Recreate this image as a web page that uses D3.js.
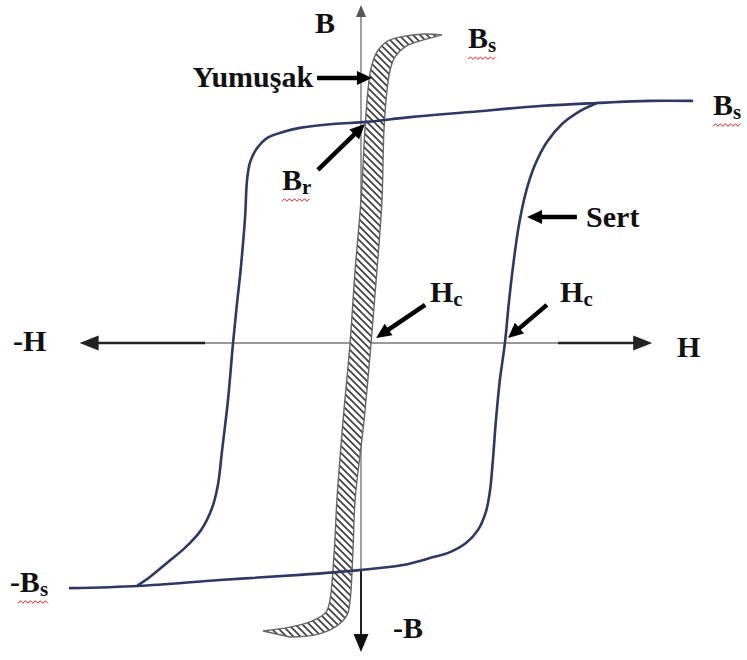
<!DOCTYPE html>
<html>
<head>
<meta charset="utf-8">
<script src="https://cdn.jsdelivr.net/npm/d3@7"></script>
<style>
  body { margin: 0; background: #fff; }
  svg { display: block; }
  text { font-family: "Liberation Serif", "Times New Roman", serif; font-weight: bold; fill: #111; }
</style>
</head>
<body>
<div id="root"></div>
<script>
// hysteresis loops, values as [H, B] in arbitrary units
var hardDown = [[11.82,8.07],[10.32,8.07],[8.43,8.0],[6.39,7.9],[3.89,7.7],[1.75,7.53],[0.21,7.37],
  [-1.0,7.3],[-2.18,7.17],[-2.79,7.03],[-3.36,6.83],[-3.71,6.5],[-3.96,6.03],[-4.07,5.43],[-4.14,4.2],
  [-4.3,2.43],[-4.43,1.3],[-4.57,0],[-4.75,-1.9],[-4.96,-3.57],[-5.11,-4.73],[-5.32,-5.5],[-5.71,-6.23],
  [-6.29,-6.83],[-6.93,-7.33],[-7.54,-7.8],[-7.96,-8.07]]
var hardUp = [[-10.39,-8.17],[-7.96,-8.1],[-5.04,-7.9],[-2.18,-7.73],[-0.07,-7.57],[1.5,-7.4],[2.46,-7.17],
  [3.18,-6.97],[3.75,-6.67],[4.18,-6.23],[4.46,-5.63],[4.61,-4.9],[4.71,-3.9],[4.82,-2.57],[4.96,-1.23],
  [5.14,0],[5.29,1.43],[5.46,2.77],[5.64,3.93],[5.89,5.03],[6.21,5.93],[6.64,6.7],[7.18,7.3],[7.82,7.73],[8.43,8.0]]
var softLeft = [[-3.5,-9.6],[-2.54,-9.47],[-1.75,-9.27],[-1.25,-8.97],[-1.11,-8.57],[-0.96,-7.0],[-0.86,-5.23],
  [-0.64,-2.57],[-0.39,0],[-0.21,2.43],[0,4.77],[0.14,7.1],[0.25,8.43],[0.36,9.17],[0.57,9.7],[0.96,10.07],
  [1.57,10.23],[2.29,10.3],[2.89,10.27]]
var softRight = [[2.11,10.07],[1.57,9.87],[1.21,9.53],[1.04,9.1],[0.93,8.43],[0.82,7.1],[0.75,4.77],
  [0.57,2.43],[0.36,0],[0.11,-2.57],[-0.21,-5.23],[-0.29,-7.0],[-0.39,-8.57],[-0.5,-9.07],[-0.93,-9.47],
  [-1.64,-9.73],[-2.54,-9.8]]

var axisH = [-10.05, 10.4]
var axisB = [11.27, -10.3]

var labels = [
  {t: "B", sub: "", h: -1.64, b: 10.33, red: false},
  {t: "B", sub: "s", h: 3.82, b: 9.83, red: true},
  {t: "B", sub: "s", h: 12.57, b: 7.6, red: true},
  {t: "Yumuşak", sub: "", h: -1.71, b: 8.53, anchor: "end"},
  {t: "B", sub: "r", h: -2.82, b: 5.1, red: true},
  {t: "Sert", sub: "", h: 8.04, b: 3.87},
  {t: "H", sub: "c", h: 2.46, b: 1.37},
  {t: "H", sub: "c", h: 7.11, b: 1.37},
  {t: "H", sub: "", h: 11.29, b: -0.47},
  {t: "-H", sub: "", h: -12.43, b: -0.27},
  {t: "-B", sub: "s", h: -12.54, b: -8.3, red: true},
  {t: "-B", sub: "", h: 1.14, b: -9.83}
]

var pointers = [
  {from: [-1.57, 8.83], to: [0.39, 8.83]},
  {from: [-1.54, 5.77], to: [0.14, 7.3]},
  {from: [7.71, 4.2], to: [5.93, 4.2]},
  {from: [2.29, 1.27], to: [0.54, 0.17]},
  {from: [6.64, 1.27], to: [5.25, 0.17]}
]

var width = 747, height = 660

var x = d3.scaleLinear().domain([-10, 10]).range([81, 641])
var y = d3.scaleLinear().domain([-10, 10]).range([643, 43])

var svg = d3.select("#root").append("svg")
  .attr("width", width)
  .attr("height", height)

// hatch for the soft material loop
var pat = svg.append("defs").append("pattern")
  .attr("id", "hatch")
  .attr("patternUnits", "userSpaceOnUse")
  .attr("width", 7).attr("height", 7)
pat.append("rect").attr("width", 7).attr("height", 7).attr("fill", "#fff")
pat.append("path")
  .attr("d", "M0,0 L7,7 M-2,5 L2,9 M5,-2 L9,2")
  .attr("stroke", "#444").attr("stroke-width", 1.8)

function head(g, p0, p1, len, wid, color) {
  var dx = p1[0] - p0[0], dy = p1[1] - p0[1]
  var d = Math.sqrt(dx * dx + dy * dy), ux = dx / d, uy = dy / d
  var bx = p1[0] - ux * len, by = p1[1] - uy * len
  g.append("path")
    .attr("d", "M" + p1[0] + "," + p1[1] + "L" + (bx - uy * wid / 2) + "," + (by + ux * wid / 2) +
      "L" + (bx + uy * wid / 2) + "," + (by - ux * wid / 2) + "Z")
    .attr("fill", color)
  return [bx + ux * 1, by + uy * 1]
}

// axes
var ax = svg.append("g")
ax.append("line")
  .attr("x1", x(axisH[0]) + 10).attr("x2", x(axisH[1]) - 10)
  .attr("y1", y(0)).attr("y2", y(0))
  .attr("stroke", "#777").attr("stroke-width", 1.4)
ax.append("line")
  .attr("x1", x(axisH[0]) + 10).attr("x2", x(-5.57))
  .attr("y1", y(0)).attr("y2", y(0))
  .attr("stroke", "#222").attr("stroke-width", 2.4)
ax.append("line")
  .attr("x1", x(7.04)).attr("x2", x(axisH[1]) - 10)
  .attr("y1", y(0)).attr("y2", y(0))
  .attr("stroke", "#222").attr("stroke-width", 2.4)
head(ax, [x(0), y(0)], [x(axisH[0]), y(0)], 19, 15, "#222")
head(ax, [x(0), y(0)], [x(axisH[1]), y(0)], 19, 15, "#222")

ax.append("line")
  .attr("x1", x(0)).attr("x2", x(0))
  .attr("y1", y(axisB[0]) + 8).attr("y2", y(-7.57))
  .attr("stroke", "#777").attr("stroke-width", 1.4)
ax.append("line")
  .attr("x1", x(0)).attr("x2", x(0))
  .attr("y1", y(-7.57)).attr("y2", y(axisB[1]) - 10)
  .attr("stroke", "#222").attr("stroke-width", 2)
head(ax, [x(0), y(0)], [x(0), y(axisB[0])], 12, 10, "#555")
head(ax, [x(0), y(0)], [x(0), y(axisB[1])], 18, 15, "#111")

// soft loop band
var line = d3.line()
  .x(function(d) { return x(d[0]) })
  .y(function(d) { return y(d[1]) })
  .curve(d3.curveCatmullRom.alpha(0.5))

svg.append("path")
  .attr("d", line(softLeft) + "L" + line(softRight).slice(1) + "L" + x(softLeft[0][0]) + "," + y(softLeft[0][1]) + "Z")
  .attr("fill", "url(#hatch)")
  .attr("stroke", "#666")
  .attr("stroke-width", 1.4)

// hard loop
var loop = svg.append("g")
  .attr("fill", "none")
  .attr("stroke", "#2f3862")
  .attr("stroke-width", 2.6)
  .attr("stroke-linecap", "round")
loop.append("path").attr("d", line(hardDown))
loop.append("path").attr("d", line(hardUp))

// pointer arrows
var arr = svg.append("g")
pointers.forEach(function(p) {
  var a = [x(p.from[0]), y(p.from[1])], b = [x(p.to[0]), y(p.to[1])]
  var base = head(arr, a, b, 15, 14, "#000")
  arr.append("line")
    .attr("x1", a[0]).attr("y1", a[1])
    .attr("x2", base[0]).attr("y2", base[1])
    .attr("stroke", "#000").attr("stroke-width", 4.5)
})

// labels
var lab = svg.append("g")
labels.forEach(function(l) {
  var t = lab.append("text")
    .attr("x", x(l.h)).attr("y", y(l.b))
    .attr("font-size", 30)
    .attr("text-anchor", l.anchor || "start")
  t.append("tspan").text(l.t)
  if (l.sub) {
    t.append("tspan").text(l.sub)
      .attr("font-size", 21)
      .attr("dy", 4)
  }
  if (l.red) {
    var bb = t.node().getBBox()
    var x0 = bb.x + (l.t.length > 1 ? 8 : 0), x1 = bb.x + bb.width
    var pts = []
    for (var i = 0; x0 + i * 2.5 <= x1; i++) pts.push([x0 + i * 2.5, bb.y + bb.height + 1 + (i % 2 ? -1.3 : 1.3)])
    lab.append("path")
      .attr("d", d3.line()(pts))
      .attr("fill", "none")
      .attr("stroke", "#e02020")
      .attr("stroke-width", 1)
  }
})
</script>
</body>
</html>
